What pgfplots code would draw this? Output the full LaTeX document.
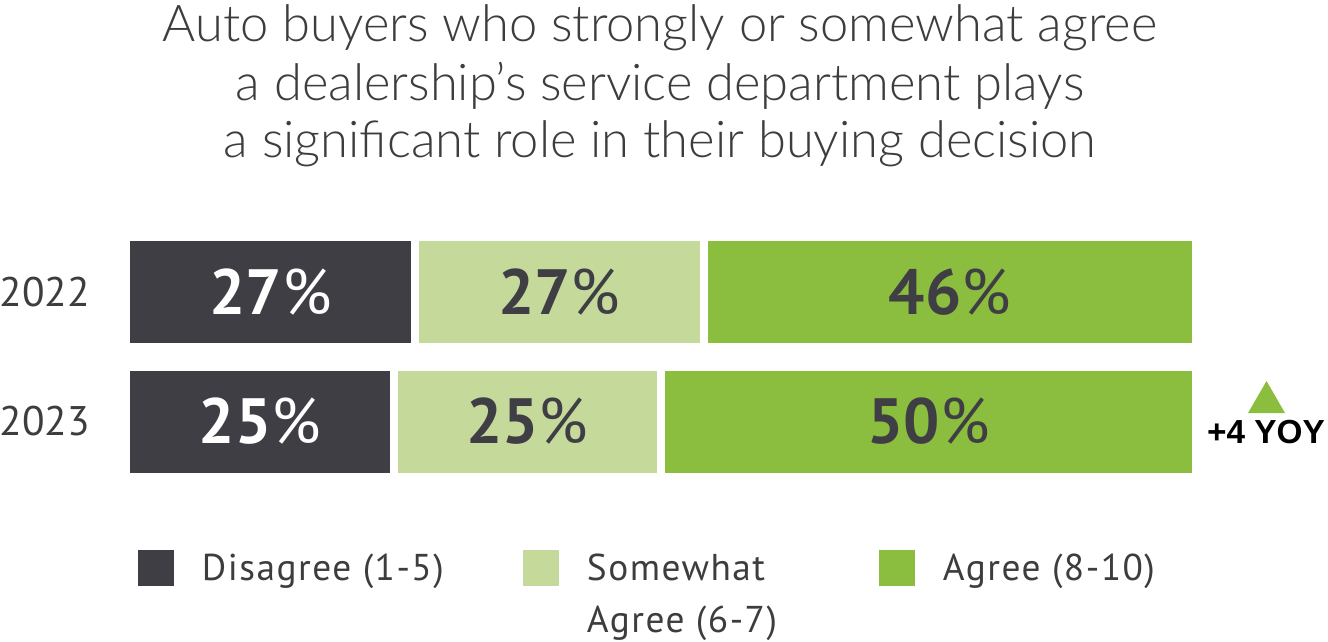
\documentclass[border=0pt]{standalone}
\usepackage{pgfplots}
\pgfplotsset{compat=1.18}
\usepackage{pgfplotstable}
\usepackage{fontspec}
\setmainfont{PT Sans}
\newfontfamily\titlefont{Lato Light}
\newfontfamily\yoyfont{Liberation Sans}

\definecolor{disagree}{HTML}{3F3E45}
\definecolor{somewhat}{HTML}{C5D99B}
\definecolor{agree}{HTML}{8BBE3E}
\definecolor{ink}{HTML}{3D3D3D}

% share of answers per year, y: 1 = 2022, 0 = 2023
\pgfplotstableread{
year dis some agr
1 27 27 46
0 25 25 50
}\survey

\begin{document}
\begin{tikzpicture}
\useasboundingbox (0pt,0pt) rectangle (996pt,-481.5pt);

% title
\begin{scope}[every node/.style={anchor=base, text=ink, font=\titlefont\fontsize{38}{44}\selectfont}]
\node at (495pt,-31.5pt) {Auto buyers who strongly or somewhat agree};
\node at (495pt,-75pt) {a dealership’s service department plays};
\node at (495pt,-117.75pt) {a significant role in their buying decision};
\end{scope}

\begin{axis}[
  at={(94.5pt,-364.69pt)}, anchor=south west,
  scale only axis, width=802.5pt, height=194.25pt, clip=false,
  xbar stacked, bar width=82.5pt,
  xmin=0, xmax=100, ymin=-0.5, ymax=1.5,
  hide x axis,
  axis y line*=left, y axis line style={draw=none},
  ytick={0,1}, yticklabels={2023,2022}, major tick length=0pt,
  yticklabel style={font=\fontsize{31}{36}\selectfont, text=ink, inner sep=0pt, xshift=-27pt},
  every axis plot/.append style={draw=white, line width=6pt},
  nodes near coords style={font=\bfseries\fontsize{48}{58}\selectfont, anchor=center},
  /pgf/number format/assume math mode=true,
  legend columns=3,
  legend style={at={(0.0112,-0.2461)}, anchor=north west, draw=none, fill=none,
    inner sep=0pt, outer sep=0pt, nodes={inner sep=0pt},
    font=\fontsize{28}{37}\selectfont\addfontfeature{LetterSpace=4}, text=ink,
    /tikz/every odd column/.append style={column sep=21pt}},
  legend image code/.code={\fill[#1, draw=none] (0pt,-13.5pt) rectangle (27pt,13.5pt);},
]
\addplot[fill=disagree, visualization depends on={\thisrow{dis}\as\seg},
  nodes near coords={\pgfmathprintnumber{\seg}{\mdseries\%}},
  every node near coord/.append style={text=white}]
  table[x=dis, y=year] {\survey};
\addplot[fill=somewhat, visualization depends on={\thisrow{some}\as\seg},
  nodes near coords={\pgfmathprintnumber{\seg}{\mdseries\%}},
  every node near coord/.append style={text=disagree}]
  table[x=some, y=year] {\survey};
\addplot[fill=agree, visualization depends on={\thisrow{agr}\as\seg},
  nodes near coords={\pgfmathprintnumber{\seg}{\mdseries\%}},
  every node near coord/.append style={text=disagree}]
  table[x=agr, y=year] {\survey};
\addlegendentry{\makebox[240.75pt][l]{Disagree (1-5)}}
\addlegendentry{\parbox[t]{219pt}{\baselineskip=39pt Somewhat\\Agree (6-7)}}
\addlegendentry{Agree (8-10)}
\end{axis}

% year-over-year change
\fill[agree] (936pt,-309.75pt) -- (963.75pt,-309.75pt) -- (949.9pt,-285.75pt) -- cycle;
\node[anchor=base, text=black, font=\yoyfont\bfseries\fontsize{25}{30}\selectfont] at (949.5pt,-332.25pt) {+4 YOY};
\end{tikzpicture}
\end{document}
